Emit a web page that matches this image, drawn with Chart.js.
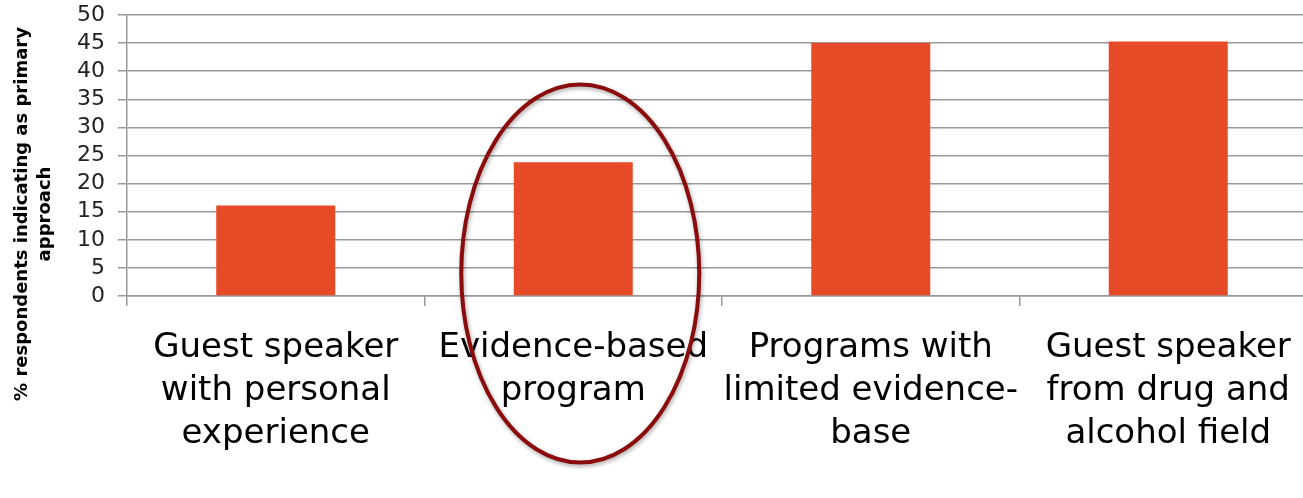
<!DOCTYPE html>
<html>
<head>
<meta charset="utf-8">
<script src="https://cdn.jsdelivr.net/npm/chart.js@4"></script>
<style>
  html, body { margin: 0; padding: 0; background: #fff; overflow: hidden; }
  #wrap { width: 1320px; height: 498px; }
</style>
</head>
<body>
<div id="wrap"><canvas id="chart-1"></canvas></div>
<script>
const approaches = [
  ['Guest speaker', 'with personal', 'experience'],
  ['Evidence-based', 'program'],
  ['Programs with', 'limited evidence-', 'base'],
  ['Guest speaker', 'from drug and', 'alcohol field']
];
const respondentPct = [16.1, 23.8, 45.0, 45.3];
const yTicks = [0, 5, 10, 15, 20, 25, 30, 35, 40, 45, 50];
const yTitle = ['% respondents indicating as primary', 'approach'];

const font = '"DejaVu Sans", sans-serif';

// red ellipse round the evidence-based bar
const ellipsePlugin = {
  id: 'ellipse',
  afterDraw(chart) {
    const ctx = chart.ctx;
    const x = chart.scales.x.getPixelForValue(1) + 7;
    const y = chart.scales.y.getPixelForValue(4);
    ctx.save();
    ctx.shadowColor = 'rgba(0,0,0,0.35)';
    ctx.shadowBlur = 4;
    ctx.shadowOffsetX = 1;
    ctx.shadowOffsetY = 2;
    ctx.strokeStyle = '#8b0c0c';
    ctx.lineWidth = 4;
    ctx.beginPath();
    ctx.ellipse(x, y, 119, 189, 0, 0, Math.PI * 2);
    ctx.stroke();
    ctx.restore();
  }
};

// y axis title, sits lower than the plot centre in the original
const yTitlePlugin = {
  id: 'yTitle',
  afterDraw(chart) {
    const ctx = chart.ctx;
    ctx.save();
    ctx.translate(0, 214);
    ctx.rotate(-Math.PI / 2);
    ctx.fillStyle = '#000';
    ctx.font = 'bold 18px ' + font;
    ctx.textAlign = 'center';
    ctx.textBaseline = 'middle';
    ctx.fillText(yTitle[0], 0, 22);
    ctx.fillText(yTitle[1], 0, 45);
    ctx.restore();
  }
};

const chart1 = new Chart(document.getElementById('chart-1'), {
  type: 'bar',
  data: {
    labels: approaches,
    datasets: [{
      data: respondentPct,
      backgroundColor: '#e64a27',
      borderWidth: 0,
      categoryPercentage: 1,
      barPercentage: 0.4
    }]
  },
  plugins: [ellipsePlugin, yTitlePlugin],
  options: {
    responsive: true,
    maintainAspectRatio: false,
    animation: false,
    layout: { padding: { top: 15, right: 3, left: 0, bottom: 0 } },
    plugins: {
      legend: { display: false },
      tooltip: { enabled: false }
    },
    scales: {
      x: {
        offset: true,
        grid: {
          offset: true,
          drawOnChartArea: false,
          drawTicks: true,
          tickLength: 10,
          color: '#999',
          lineWidth: 1.5
        },
        border: { color: '#999', width: 1.5 },
        ticks: {
          maxRotation: 0,
          autoSkip: false,
          padding: 21,
          color: '#000',
          font: { family: font, size: 34, lineHeight: '43px' }
        },
        afterFit(scale) { scale.height = 202; }
      },
      y: {
        min: 0,
        max: 50,
        afterBuildTicks(scale) { scale.ticks = yTicks.map(v => ({ value: v })); },
        grid: {
          color: '#999',
          lineWidth: 1.5,
          drawTicks: true,
          tickLength: 9
        },
        border: { color: '#999', width: 1.5 },
        ticks: {
          autoSkip: false,
          padding: 13,
          color: '#222',
          font: { family: font, size: 22, lineHeight: 1 }
        },
        afterFit(scale) {
          scale.width = 127;
          scale.paddingTop = 0;
          scale.paddingBottom = 0;
        }
      }
    }
  }
});
</script>
</body>
</html>
